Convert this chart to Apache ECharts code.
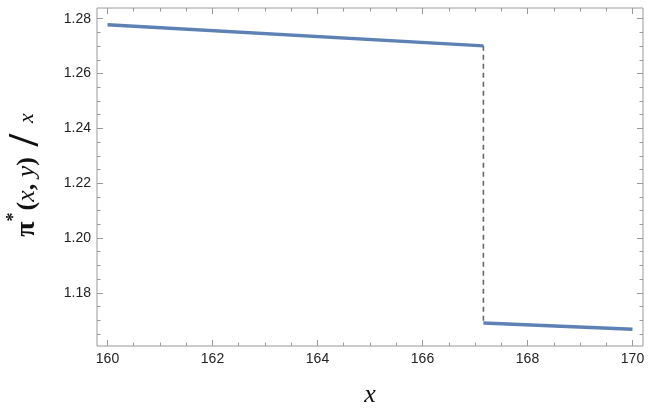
<!DOCTYPE html>
<html>
<head>
<meta charset="utf-8">
<script src="https://cdn.jsdelivr.net/npm/echarts@6/dist/echarts.min.js"></script>
<style>html,body{margin:0;padding:0;background:#fff}#c{width:648px;height:408px}</style>
</head>
<body>
<div id="c"></div>
<script>
// Data
const upperBranch = [[160, 1.2778], [167.16, 1.2701]];
const lowerBranch = [[167.16, 1.1690], [170, 1.1667]];
const jumpLine = [[167.16, 1.2701], [167.16, 1.1690]];

// Axis ranges and ticks
const xRange = [159.8, 170.2];
const yRange = [1.1606, 1.2839];
const xMajorTicks = [160, 162, 164, 166, 168, 170];
const xMinorTicks = [160.5, 161, 161.5, 162.5, 163, 163.5, 164.5, 165, 165.5, 166.5, 167, 167.5, 168.5, 169, 169.5];
const yMajorTicks = [1.18, 1.20, 1.22, 1.24, 1.26, 1.28];
const yMinorTicks = [1.165, 1.17, 1.175, 1.185, 1.19, 1.195, 1.205, 1.21, 1.215, 1.225, 1.23, 1.235, 1.245, 1.25, 1.255, 1.265, 1.27, 1.275];

const frameColor = '#999999';
const labelFont = {fontFamily: 'Liberation Sans, Arial, sans-serif', fontSize: 14, color: '#222222'};

function mkAxis(kind, pos, ticks, len, withLabels) {
  const isX = kind === 'x';
  return {
    type: 'value',
    position: pos,
    min: isX ? xRange[0] : yRange[0],
    max: isX ? xRange[1] : yRange[1],
    axisLine: {show: false},
    splitLine: {show: false},
    axisTick: {show: true, inside: true, length: len, customValues: ticks,
      lineStyle: {color: frameColor, width: 1}},
    axisLabel: withLabels ? Object.assign({show: true, customValues: ticks, margin: 6,
      formatter: v => isX ? String(Math.round(v)) : v.toFixed(2)}, labelFont) : {show: false}
  };
}

const chart = echarts.init(document.getElementById('c'), null, {renderer: 'canvas'});
chart.setOption({
  animation: false,
  backgroundColor: '#ffffff',
  grid: {left: 97, top: 8, right: 5, bottom: 62, show: true, borderColor: frameColor, borderWidth: 1, backgroundColor: 'transparent'},
  xAxis: [
    mkAxis('x', 'bottom', xMajorTicks, 6, true),
    mkAxis('x', 'bottom', xMinorTicks, 3.5, false),
    mkAxis('x', 'top', xMajorTicks, 6, false),
    mkAxis('x', 'top', xMinorTicks, 3.5, false)
  ],
  yAxis: [
    mkAxis('y', 'left', yMajorTicks, 6, true),
    mkAxis('y', 'left', yMinorTicks, 3.5, false),
    mkAxis('y', 'right', yMajorTicks, 6, false),
    mkAxis('y', 'right', yMinorTicks, 3.5, false)
  ],
  series: [
    {type: 'line', data: jumpLine, showSymbol: false, symbol: 'none', z: 1,
      lineStyle: {color: '#666666', width: 1.6, type: [5, 4]}},
    {type: 'line', data: upperBranch, showSymbol: false, symbol: 'none', z: 2,
      lineStyle: {color: '#5E81B5', width: 3.4, cap: 'butt'}},
    {type: 'line', data: lowerBranch, showSymbol: false, symbol: 'none', z: 2,
      lineStyle: {color: '#5E81B5', width: 3.4, cap: 'butt'}}
  ],
  graphic: [
    {type: 'text', x: 370, y: 395, z: 10,
      style: {text: 'x', font: 'italic 26px "Liberation Serif", "Times New Roman", serif',
        fill: '#111', align: 'center', verticalAlign: 'middle'}},
    {type: 'text', x: 27, y: 175, rotation: Math.PI / 2, z: 10,
      style: {
        text: '{p|π}{s|*}{n|(}{i|x}{n|, }{i|y}{n|)}{sl| / }{d|x}',
        align: 'center', verticalAlign: 'middle',
        rich: {
          p: {font: 'bold 28px "Liberation Serif", "Times New Roman", serif', fill: '#111', verticalAlign: 'middle'},
          s: {font: 'bold 18px "Liberation Serif", serif', fill: '#111', verticalAlign: 'top', padding: [0, 2, 12, 0]},
          n: {font: 'bold 26px "Liberation Serif", serif', fill: '#111', verticalAlign: 'middle'},
          i: {font: 'italic 26px "Liberation Serif", serif', fill: '#111', verticalAlign: 'middle'},
          sl: {font: 'bold 44px "Liberation Serif", serif', fill: '#111', verticalAlign: 'middle'},
          d: {font: 'italic 22px "Liberation Serif", serif', fill: '#111', verticalAlign: 'middle'}
        }
      }}
  ]
});
</script>
</body>
</html>
